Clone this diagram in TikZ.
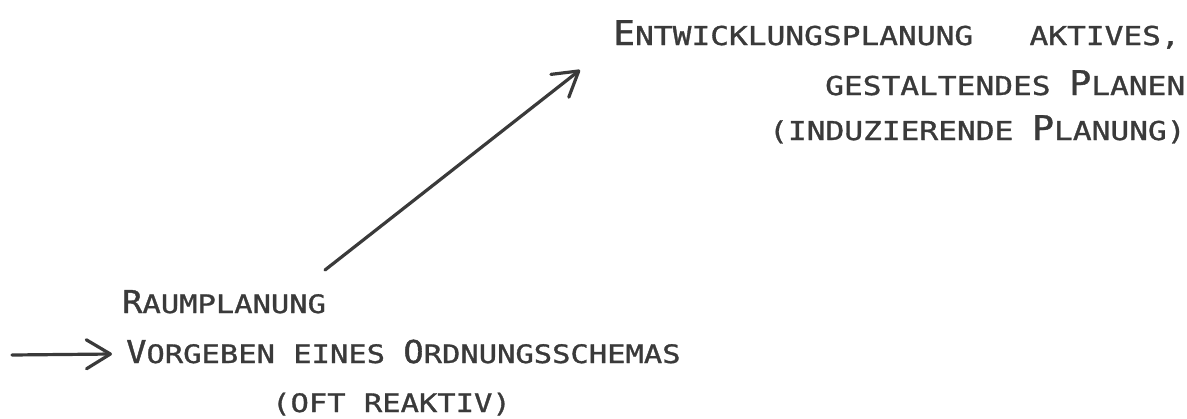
\documentclass[tikz,border=0pt]{standalone}
\usepackage{fontspec}
\usetikzlibrary{arrows.meta}
\newfontfamily\plotfont[FakeStretch=1.2,FakeBold=1.2]{DejaVu Sans Mono}
\newfontfamily\plotcap[FakeStretch=1.07,FakeBold=1.2]{DejaVu Sans Mono}
\newcommand\smc[1]{{\plotfont\fontsize{26}{26}\selectfont #1}}
\newcommand\bigc[1]{{\plotcap\fontsize{34}{34}\selectfont #1}}
\newcommand\smcb[1]{{\plotfont\fontsize{25.4}{26}\selectfont #1}}
\newcommand\bigcb[1]{{\plotcap\fontsize{31.5}{32}\selectfont #1}}
\definecolor{ink}{HTML}{3A3A3A}
\begin{document}
\begin{tikzpicture}[x=1pt,y=-1pt,
  txt/.style={inner sep=0pt,anchor=base west,text=ink,font=\plotfont},
  arr/.style={draw=ink,line width=3.2pt,line cap=round,
    -{Straight Barb[length=24pt,width=29pt,round]}}]
\useasboundingbox (0,0) rectangle (1187,418);
% upper text block
\node[txt] (ent)  at (613,45)  {\bigc{E}\smc{NTWICKLUNGSPLANUNG\ \ \ AKTIVES,}};
\node[txt] (gest) at (825,95)  {\smc{GESTALTENDES\ }\bigc{P}\smc{LANEN}};
\node[txt] (ind)  at (769,140) {\smc{(INDUZIERENDE\ }\bigc{P}\smc{LANUNG)}};
% lower text block
\node[txt] (raum) at (122,313) {\bigcb{R}\smcb{AUMPLANUNG}};
\node[txt] (vorg) at (126,363) {\bigcb{V}\smcb{ORGEBEN\ EINES\ }\bigcb{O}\smcb{RDNUNGSSCHEMAS}};
\node[txt] (oft)  at (272,412) {\smcb{(OFT\ REAKTIV)}};
% arrows
\coordinate (d0) at (325,270);
\coordinate (d1) at (580,70);
\coordinate (l0) at (12,355);
\coordinate (l1) at (112,354);
\draw[arr] (d0) -- (d1);
\draw[arr] (l0) -- (l1);
\end{tikzpicture}
\end{document}
